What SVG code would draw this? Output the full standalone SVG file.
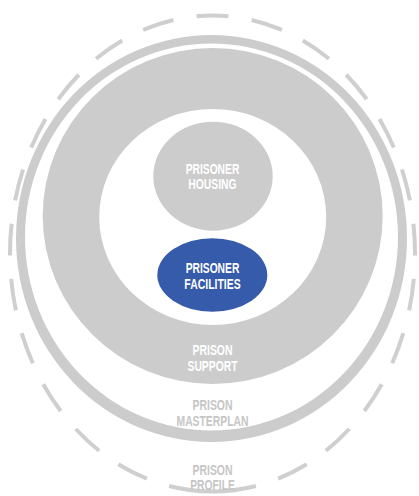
<svg xmlns="http://www.w3.org/2000/svg" width="419" height="496" viewBox="0 0 419 496">
<style>
.g{fill:#CCCCCC;fill-rule:evenodd}
.t{font-family:"Liberation Sans",Arial,sans-serif;font-weight:bold;font-size:14px;text-anchor:middle}
.w{fill:#FFFFFF}
.l{fill:#C6C6C6}
</style>
<rect width="419" height="496" fill="#FFFFFF"/>
<g id="prison-profile">
<path d="M212.5,491.5 A202.5,238 0 1,1 212.5,15.5 A202.5,238 0 1,1 212.5,491.5" fill="none" stroke="#CFCFCF" stroke-width="4" pathLength="1388" stroke-dasharray="44 23.5 32 23.5 32 23.5 32 23.5 32 23.5 32 23.5 32 23.5 32 23.5 32 23.5 32 23.5 32 23.5 32 23.5 32 23.5 32 23.5 32 23.5 32 23.5 32 23.5 32 23.5 32 23.5 32 23.5 32 23.5 32 23.5 32 23.5 32 23.5 44"/>
<text class="t l" x="212.5" y="474.5" textLength="40" lengthAdjust="spacingAndGlyphs">PRISON</text>
<text class="t l" x="212.5" y="489.8" textLength="44.7" lengthAdjust="spacingAndGlyphs">PROFILE</text>
</g>
<g id="prison-masterplan">
<path class="g" d="M16,238.5 a195.5,203.5 0 1,0 391,0 a195.5,203.5 0 1,0 -391,0Z M25,237 a186.5,193.5 0 1,0 373,0 a186.5,193.5 0 1,0 -373,0Z"/>
<text class="t l" x="212.5" y="410.4" textLength="40" lengthAdjust="spacingAndGlyphs">PRISON</text>
<text class="t l" x="212.5" y="426" textLength="72" lengthAdjust="spacingAndGlyphs">MASTERPLAN</text>
</g>
<g id="prison-support">
<path class="g" d="M42.7,216 a170,168 0 1,0 340,0 a170,168 0 1,0 -340,0Z M99.2,217 a113.5,108 0 1,0 227,0 a113.5,108 0 1,0 -227,0Z"/>
<text class="t w" x="212.5" y="355.4" textLength="40" lengthAdjust="spacingAndGlyphs">PRISON</text>
<text class="t w" x="212.5" y="370.8" textLength="50" lengthAdjust="spacingAndGlyphs">SUPPORT</text>
</g>
<g id="prisoner-housing">
<ellipse cx="213" cy="176.2" rx="59.7" ry="54.5" fill="#CCCCCC"/>
<text class="t w" x="212.5" y="174" textLength="53.6" lengthAdjust="spacingAndGlyphs">PRISONER</text>
<text class="t w" x="212.5" y="189.4" textLength="48.3" lengthAdjust="spacingAndGlyphs">HOUSING</text>
</g>
<g id="prisoner-facilities">
<ellipse cx="212.3" cy="275" rx="55" ry="36.8" fill="#355BAA"/>
<text class="t w" x="212.5" y="273.4" textLength="53.6" lengthAdjust="spacingAndGlyphs">PRISONER</text>
<text class="t w" x="212.5" y="288.8" textLength="56.3" lengthAdjust="spacingAndGlyphs">FACILITIES</text>
</g>
<g id="connectors"/>
</svg>
